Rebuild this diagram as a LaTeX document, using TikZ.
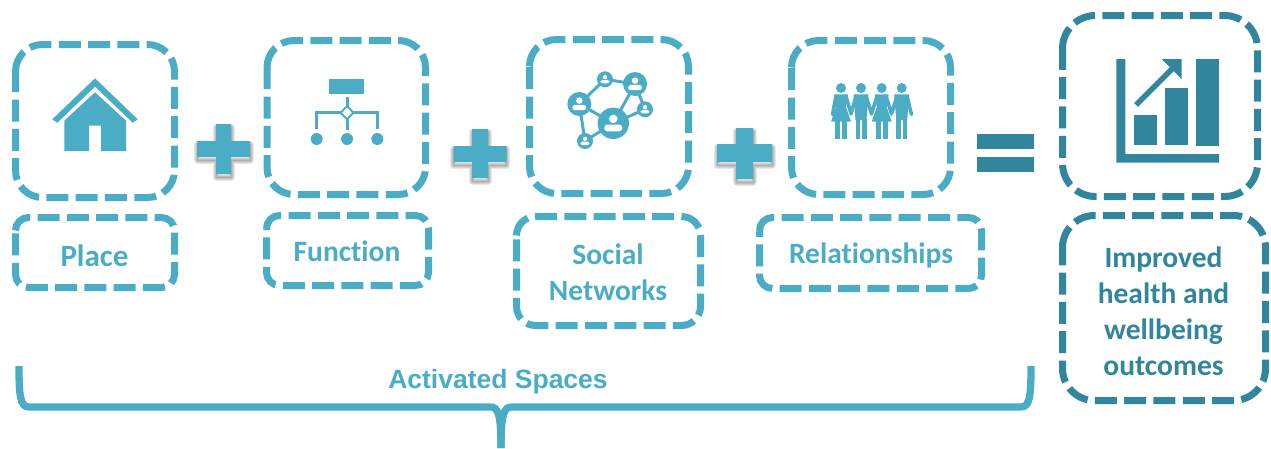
\documentclass[tikz,border=0pt]{standalone}
\usepackage{fontspec}
\setmainfont[Ligatures=NoCommon]{Carlito}
\newfontfamily\arialish{Liberation Sans}
\definecolor{lightc}{HTML}{4BACC6}
\definecolor{darkc}{HTML}{31859C}
\tikzset{
  dbox/.style={draw=#1,line width=7pt,dash pattern=on 22pt off 7.3pt,line cap=butt},
  lab/.style={text=#1,font=\bfseries\fontsize{29.5}{36}\selectfont,align=center,inner sep=0pt,anchor=center},
  lnk/.style={draw=lightc,line width=3pt},
  arm/.style={lightc,line width=3.5pt,line cap=round,line join=round}
}
% x0 y0 x1 y1 r colour
\newcommand{\mydbox}[6]{\draw[dbox=#6] (#1,{#2+#5})
  .. controls (#1,{#2+.4477*#5}) and ({#1+.4477*#5},#2) .. ({#1+#5},#2) -- ({#3-#5},#2)
  .. controls ({#3-.4477*#5},#2) and (#3,{#2+.4477*#5}) .. (#3,{#2+#5}) -- (#3,{#4-#5})
  .. controls (#3,{#4-.4477*#5}) and ({#3-.4477*#5},#4) .. ({#3-#5},#4) -- ({#1+#5},#4)
  .. controls ({#1+.4477*#5},#4) and (#1,{#4-.4477*#5}) .. (#1,{#4-#5}) -- cycle;}
% plus sign: hx0 hx1 hy0 hy1 vx0 vx1 vy0 vy1
\newcommand{\myplus}[8]{%
  \foreach \w in {7,5,3,1}{\draw[black,opacity=.09,line width=\w pt,line join=round]
    (#1,{#3+3}) -- (#5,{#3+3}) -- (#5,{#7+3}) -- (#6,{#7+3}) -- (#6,{#3+3}) -- (#2,{#3+3}) -- (#2,{#4+3}) -- (#6,{#4+3}) -- (#6,{#8+3}) -- (#5,{#8+3}) -- (#5,{#4+3}) -- (#1,{#4+3}) -- cycle;}
  \fill[lightc] (#1,#3) -- (#5,#3) -- (#5,#7) -- (#6,#7) -- (#6,#3) -- (#2,#3) -- (#2,#4) -- (#6,#4) -- (#6,#8) -- (#5,#8) -- (#5,#4) -- (#1,#4) -- cycle;}
% network node: cx cy r
\newcommand{\mynet}[3]{%
  \fill[lightc] (#1,#2) circle[radius=#3];
  \fill[white] (#1,{#2-.28*#3}) circle[radius={.27*#3}];
  \fill[white,rounded corners={.22*#3 pt}] ({#1-.58*#3},{#2+.52*#3}) -- ({#1-.58*#3},{#2+.08*#3}) -- ({#1+.58*#3},{#2+.08*#3}) -- ({#1+.58*#3},{#2+.52*#3}) -- cycle;}
% people
\newcommand{\mywoman}[1]{%
  \fill[lightc] (#1,88) circle[radius=5];
  \fill[lightc] ({#1-7},94.3) -- ({#1+7},94.3) -- ({#1+5},107) -- ({#1+10},121.7) -- ({#1-10},121.7) -- ({#1-5},107) -- cycle;
  \fill[lightc] ({#1-6},121) rectangle ({#1-1},139);
  \fill[lightc] ({#1+1},121) rectangle ({#1+6},139);}
\newcommand{\myman}[1]{%
  \fill[lightc] (#1,88) circle[radius=5];
  \fill[lightc] ({#1-7.5},94.3) -- ({#1+7.5},94.3) -- ({#1+5.5},120) -- ({#1-5.5},120) -- cycle;
  \fill[lightc] ({#1-5.5},119) rectangle ({#1-1},139);
  \fill[lightc] ({#1+1},119) rectangle ({#1+5.5},139);}
\begin{document}
\begin{tikzpicture}[x=1pt,y=-1pt]
\useasboundingbox (0,0) rectangle (1271,448);
% boxes
\mydbox{15.5}{44.5}{174.5}{197.5}{27}{lightc}
\mydbox{15.5}{217.5}{174.5}{287.5}{13}{lightc}
\mydbox{267}{40.5}{425.5}{194.5}{27}{lightc}
\mydbox{266.5}{215.5}{428.5}{285.5}{13}{lightc}
\mydbox{529.5}{39.5}{688.5}{193.5}{27}{lightc}
\mydbox{516.5}{216.5}{700.5}{325.5}{19}{lightc}
\mydbox{791.5}{40.5}{950.5}{194.5}{27}{lightc}
\mydbox{759.5}{217.5}{981.5}{288.5}{13}{lightc}
\mydbox{1062.5}{15.5}{1257.5}{196.5}{33}{darkc}
\mydbox{1062.5}{215.5}{1265.5}{400.5}{32}{darkc}
% labels
\node[lab=lightc,font=\bfseries\fontsize{31}{36}\selectfont] (place) at (94.5,255.5) {Place};
\node[lab=lightc] (function) at (347,251.5) {Function};
\node[lab=lightc] (social) at (608,272) {Social\\Networks};
\node[lab=lightc] (relationships) at (871,255.5) {Relationships};
\node[lab=darkc] (outcomes) at (1163.5,311) {Improved\\health and\\wellbeing\\outcomes};
\node[text=lightc,font=\arialish\bfseries\fontsize{26.5}{30}\selectfont,inner sep=0pt] (activated) at (498,382) {Activated Spaces};
% operators
\myplus{197}{250}{141}{157}{216}{231}{124}{174}
\myplus{453.5}{506.5}{146}{162}{472}{488}{129}{178}
\myplus{717}{772}{144}{162}{736}{753}{128}{179}
\fill[darkc] (977,134) rectangle (1034,149);
\fill[darkc] (977,157) rectangle (1034,172);
% house
\fill[lightc] (95,78.3) -- (137.7,119.3) -- (132.7,122.7) -- (95,86.7) -- (57.3,122.7) -- (52.3,119.3) -- cycle;
\fill[lightc] (95,92.3) -- (126,120.7) -- (126,151) -- (101,151) -- (101,125.7) -- (89,125.7) -- (89,151) -- (64.3,151) -- (64.3,120.7) -- cycle;
% hierarchy
\fill[lightc] (329,79) rectangle (364,94);
\draw[lnk] (347,97.3) -- (347,130);
\draw[lnk] (316.7,129.3) -- (316.7,112.7) -- (377.3,112.7) -- (377.3,129.3);
\fill[white,draw=lightc,line width=2pt] (347,106.2) -- (353.5,112.7) -- (347,119.2) -- (340.5,112.7) -- cycle;
\foreach \cx in {316.7,347,377.3}{\fill[lightc] (\cx,139) circle[radius=6];}
% network
\draw[lnk] (579.3,104) -- (605,79.3) -- (635,84) -- (613.3,123.3) -- (579.3,104) -- (585,141) -- (613.3,123.3) -- (645,109.3) -- (635,84);
\mynet{613.3}{123.3}{15.7}
\mynet{635}{84}{12}
\mynet{579.3}{104}{12}
\mynet{605}{79.3}{8}
\mynet{645}{109.3}{8}
\mynet{585}{141}{8}
% people
\mywoman{841}\myman{861}\mywoman{881.7}\myman{901.7}
\draw[arm] (836,96) -- (832.5,114.5);
\draw[arm] (846,96) -- (851,114) -- (856,96);
\draw[arm] (866,96) -- (871.5,114) -- (877,96);
\draw[arm] (886,96) -- (891.5,114) -- (897,96);
\draw[arm] (907,96) -- (911.5,114.5);
% chart
\fill[darkc] (1116.3,59) -- (1125.3,59) -- (1125.3,154) -- (1219,154) -- (1219,162.7) -- (1116.3,162.7) -- cycle;
\fill[darkc] (1134,115) rectangle (1157,145);
\fill[darkc] (1165,88) rectangle (1188,145);
\fill[darkc] (1196,59) rectangle (1219,146);
\draw[darkc,line width=5.5pt] (1136,105) -- (1172,69);
\fill[darkc] (1161.7,59) -- (1181.7,59) -- (1181.7,79) -- cycle;
% brace
\coordinate (bl) at (19,366);
\coordinate (br) at (1031,366);
\coordinate (bc) at (501,448);
\draw[lightc,line width=7.3pt] (bl) .. controls (19,395) and (20,407) .. (29,407) -- (490,407) .. controls (498,407) and (501,413) .. (bc);
\draw[lightc,line width=7.3pt] (br) .. controls (1031,395) and (1030,407) .. (1021,407) -- (512,407) .. controls (504,407) and (501,413) .. (bc);
\end{tikzpicture}
\end{document}
